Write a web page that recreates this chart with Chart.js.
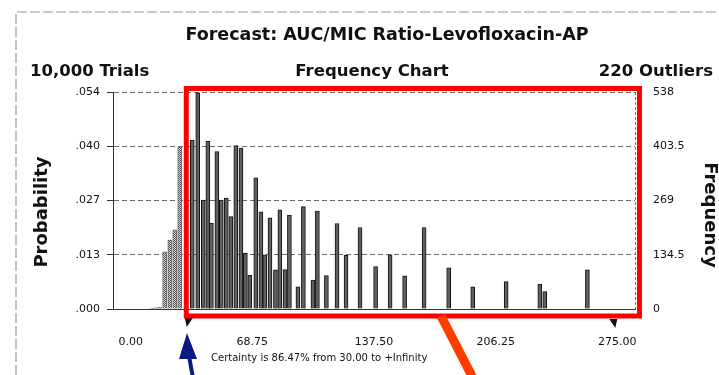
<!DOCTYPE html>
<html>
<head>
<meta charset="utf-8">
<script src="https://cdn.jsdelivr.net/npm/chart.js@4.4.1/dist/chart.umd.min.js"></script>
<style>
  html, body { margin: 0; padding: 0; background: #fff; }
</style>
</head>
<body>
<canvas id="myChart" width="719" height="375"></canvas>
<script>
// bin centres (AUC/MIC ratio) and trial counts
const binValues = [12, 14, 16.3, 19.2, 22.1, 24.9, 27.7, 34.8, 37.9, 41.0, 43.6, 45.6, 48.7, 51.2, 54.0,
    56.6, 59.4, 62.3, 64.8, 67.3, 70.7, 73.6, 75.8, 78.7, 81.8, 84.3, 87.2, 89.7, 94.5, 97.6,
    103.0, 105.5, 110.6, 116.6, 121.7, 129.6, 138.4, 146.6, 154.8, 165.8, 179.7, 193.3, 212.2,
    231.2, 234.0, 258.1];
const binCounts = [2, 3, 4, 142, 171, 196, 402, 419, 536, 270, 416, 213, 390, 270, 275,
    229, 405, 399, 138, 84, 325, 241, 134, 226, 97, 246, 98, 233, 55, 254,
    72, 243, 83, 212, 133, 202, 105, 134, 82, 202, 102, 55, 68, 62, 43, 97];

const freqTicks = [0, 134.5, 269, 403.5, 538];
const probLabels = ['.000', '.013', '.027', '.040', '.054'];
const freqLabels = ['0', '134.5', '269', '403.5', '538'];
const xTicks = [0, 68.75, 137.5, 206.25, 275];
const certaintyFrom = 30;

const FONT = '"DejaVu Sans", sans-serif';

// dotted fill for the bars outside the certainty range
const dotCanvas = document.createElement('canvas');
dotCanvas.width = 2;
dotCanvas.height = 2;
const dctx = dotCanvas.getContext('2d');
dctx.fillStyle = '#e6e6e6';
dctx.fillRect(0, 0, 2, 2);
dctx.fillStyle = '#4a4a4a';
dctx.fillRect(0, 0, 1, 1);
dctx.fillRect(1, 1, 1, 1);
const ctx = document.getElementById('myChart').getContext('2d');
const dotPattern = ctx.createPattern(dotCanvas, 'repeat');

const overlay = {
    id: 'overlay',
    afterDraw(chart) {
        const c = chart.ctx;
        const a = chart.chartArea;
        const x = chart.scales.x;
        const x30 = x.getPixelForValue(certaintyFrom);
        c.save();

        // scan frame
        c.strokeStyle = '#9a9a9a';
        c.lineWidth = 1.2;
        c.setLineDash([10, 3]);
        c.beginPath();
        c.moveTo(16, 375);
        c.lineTo(16, 12);
        c.lineTo(719, 12);
        c.stroke();

        // dotted right edge of plot
        c.strokeStyle = '#777';
        c.lineWidth = 1;
        c.setLineDash([3, 2]);
        c.beginPath();
        c.moveTo(a.right + 0.5, a.top);
        c.lineTo(a.right + 0.5, a.bottom);
        c.stroke();
        c.setLineDash([]);

        // header
        c.fillStyle = '#111';
        c.textBaseline = 'alphabetic';
        c.font = 'bold 17.5px ' + FONT;
        c.textAlign = 'center';
        c.fillText('Forecast: AUC/MIC Ratio-Levofloxacin-AP', 387, 40);
        c.font = 'bold 16.5px ' + FONT;
        c.textAlign = 'left';
        c.fillText('10,000 Trials', 30, 76);
        c.textAlign = 'center';
        c.fillText('Frequency Chart', 372, 76);
        c.textAlign = 'right';
        c.fillText('220 Outliers', 713, 76);

        // axis titles
        c.font = 'bold 18px ' + FONT;
        c.textAlign = 'center';
        c.textBaseline = 'middle';
        c.save();
        c.translate(42, 212);
        c.rotate(-Math.PI / 2);
        c.fillText('Probability', 0, 0);
        c.restore();
        c.save();
        c.translate(710, 215);
        c.rotate(Math.PI / 2);
        c.fillText('Frequency', 0, 0);
        c.restore();

        // certainty markers
        c.fillStyle = '#111';
        c.beginPath();
        c.moveTo(x30 + 1, 318);
        c.lineTo(x30 + 9, 318);
        c.lineTo(x30 + 3, 327);
        c.closePath();
        c.fill();
        const x275 = x.getPixelForValue(275);
        c.beginPath();
        c.moveTo(x275 - 8, 319);
        c.lineTo(x275, 319);
        c.lineTo(x275 - 2, 328);
        c.closePath();
        c.fill();

        c.font = '10px ' + FONT;
        c.textAlign = 'left';
        c.fillText('Certainty is 86.47% from 30.00 to +Infinity', 211, 358);

        // red highlight box
        c.strokeStyle = '#ff0000';
        c.lineWidth = 5;
        c.strokeRect(x30 + 2.5, 88.5, 639.5 - x30 - 2.5, 316 - 88.5);

        // orange stroke
        c.strokeStyle = '#ff3c00';
        c.lineWidth = 9;
        c.beginPath();
        c.moveTo(441, 316);
        c.lineTo(474, 380);
        c.stroke();

        // blue arrow
        c.strokeStyle = '#0b1a80';
        c.fillStyle = '#0b1a80';
        c.lineWidth = 4;
        c.beginPath();
        c.moveTo(189, 356);
        c.lineTo(193, 378);
        c.stroke();
        c.beginPath();
        c.moveTo(187, 333);
        c.lineTo(197, 359);
        c.lineTo(179, 359);
        c.closePath();
        c.fill();

        c.restore();
    }
};

const myChart = new Chart(ctx, {
    type: 'bar',
    data: {
        datasets: [{
            data: binValues.map((v, i) => ({ x: v, y: binCounts[i] })),
            xAxisID: 'x',
            yAxisID: 'y',
            barThickness: 4,
            backgroundColor: (c) => (c.raw && c.raw.x < certaintyFrom ? dotPattern : '#606060'),
            borderColor: (c) => (c.raw && c.raw.x < certaintyFrom ? '#666' : '#111'),
            borderWidth: 1
        }]
    },
    options: {
        responsive: false,
        animation: false,
        devicePixelRatio: 1,
        layout: { padding: { top: 92, left: 0, right: 0, bottom: 0 } },
        plugins: {
            legend: { display: false },
            tooltip: { enabled: false },
            title: { display: false }
        },
        scales: {
            x: {
                type: 'linear',
                min: -10,
                max: 285,
                offset: false,
                afterBuildTicks: (s) => { s.ticks = xTicks.map((v) => ({ value: v })); },
                afterFit: (s) => { s.height = 66; },
                grid: { display: false, offset: false },
                border: { color: '#333', width: 1 },
                ticks: {
                    padding: 19,
                    autoSkip: false,
                    maxRotation: 0,
                    color: '#111',
                    font: { family: FONT, size: 11 },
                    callback: (v) => Number(v).toFixed(2)
                }
            },
            y: {
                position: 'left',
                min: 0,
                max: 538,
                afterBuildTicks: (s) => { s.ticks = freqTicks.map((v) => ({ value: v })); },
                afterFit: (s) => { s.width = 113; },
                grid: { color: '#6a6a6a', tickLength: 6, tickColor: '#333' },
                border: { color: '#333', dash: [5, 3] },
                ticks: {
                    padding: 7,
                    color: '#111',
                    font: { family: FONT, size: 11 },
                    callback: (v, i) => probLabels[i]
                }
            },
            y2: {
                position: 'right',
                min: 0,
                max: 538,
                afterBuildTicks: (s) => { s.ticks = freqTicks.map((v) => ({ value: v })); },
                afterFit: (s) => { s.width = 84; },
                grid: { drawOnChartArea: false, drawTicks: false },
                border: { display: false },
                ticks: {
                    padding: 18,
                    color: '#111',
                    font: { family: FONT, size: 11 },
                    callback: (v, i) => freqLabels[i]
                }
            }
        }
    },
    plugins: [overlay]
});
</script>
</body>
</html>
